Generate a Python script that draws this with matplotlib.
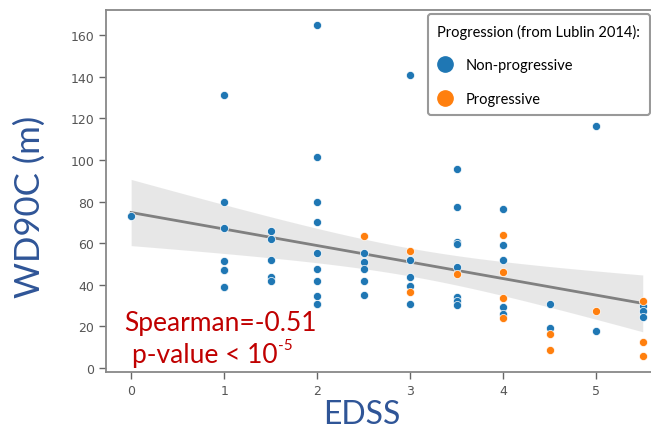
import numpy as np
import matplotlib
matplotlib.use("Agg")
import matplotlib.pyplot as plt
from matplotlib.lines import Line2D

# EDSS / WD90C values, split by progression group
# (a few patients share the same spot and hide behind each other)
edss_np = [0,
           1, 1, 1, 1, 1, 1, 1, 1,
           1.5, 1.5, 1.5, 1.5, 1.5,
           2, 2, 2, 2, 2, 2, 2, 2, 2, 2,
           2.5, 2.5, 2.5, 2.5, 2.5,
           3, 3, 3, 3, 3,
           3.5, 3.5, 3.5, 3.5, 3.5, 3.5, 3.5, 3.5,
           4, 4, 4, 4, 4,
           4.5, 4.5,
           5, 5,
           5.5, 5.5, 5.5]
wd_np = [73,
         131, 79.6, 67.3, 51.3, 47, 47, 39, 39,
         66, 62, 52, 43.6, 42,
         164.6, 101.4, 79.6, 70.3, 55.5, 47.5, 42, 34.5, 31, 31,
         55.3, 51, 47.6, 41.8, 35,
         141, 52, 43.6, 39.6, 30.8,
         95.7, 77.6, 60.7, 59.6, 48.4, 34, 32.4, 30.3,
         76.4, 59.3, 51.8, 29.1, 26,
         31, 19,
         116.5, 18,
         29.6, 27.2, 24.3]

edss_p = [2.5, 3, 3, 3.5, 4, 4, 4, 4, 4.5, 4.5, 5, 5.5, 5.5, 5.5]
wd_p = [63.6, 56.4, 36.7, 45.2, 63.9, 46, 33.6, 24, 16.3, 8.8, 27.2, 32, 12.3, 5.6]

group_labels = ["Non-progressive", "Progressive"]
legend_title = "Progression (from Lublin 2014):"
x_ticks = [0, 1, 2, 3, 4, 5]
y_ticks = [0, 20, 40, 60, 80, 100, 120, 140, 160]

blue = "#1f77b4"
orange = "#ff7f0e"
label_blue = "#2f5597"
note_red = "#c00000"
text_font = ["Lato", "DejaVu Sans"]

fig = plt.figure(figsize=(6.51, 4.35), dpi=100)
ax = fig.add_axes([106 / 651, 1 - 373 / 435, 560 / 651, 362 / 435])

# linear fit with 95% confidence band (all patients)
x_all = np.array(edss_np + edss_p, dtype=float)
y_all = np.array(wd_np + wd_p, dtype=float)
slope, intercept = np.polyfit(x_all, y_all, 1)
n = len(x_all)
resid = y_all - (slope * x_all + intercept)
s_err = np.sqrt(np.sum(resid ** 2) / (n - 2))
sxx = np.sum((x_all - x_all.mean()) ** 2)
xf = np.linspace(0, 5.5, 100)
yf = slope * xf + intercept
half = 1.995 * s_err * np.sqrt(1 / n + (xf - x_all.mean()) ** 2 / sxx)
ax.fill_between(xf, yf - half, yf + half, color="#bdbdbd", alpha=0.35, lw=0, zorder=1)
ax.plot(xf, yf, color="#808080", lw=2, zorder=2)

ax.scatter(edss_np, wd_np, s=34, color=blue, edgecolor="white", linewidth=0.5, zorder=3)
ax.scatter(edss_p, wd_p, s=34, color=orange, edgecolor="white", linewidth=0.5, zorder=3)

ax.set_xlim(-0.27, 5.75)
ax.set_ylim(-1.9, 172)
ax.set_xticks(x_ticks)
ax.set_yticks(y_ticks)
ax.tick_params(labelsize=9, labelcolor="#555555", color="#666666", length=5, width=1)
for side in ["left", "bottom", "top"]:
    ax.spines[side].set_color("#888888")
    ax.spines[side].set_linewidth(1.3)
ax.spines["right"].set_visible(False)

ax.set_xlabel("EDSS", fontsize=23, color=label_blue, family=text_font)
ax.set_ylabel("WD90C (m)", fontsize=25, color=label_blue, family=text_font)
ax.xaxis.set_label_coords(0.457, -0.075)
ax.yaxis.set_label_coords(-0.108, 0.459)

fig.text(124 / 651, 1 - 331 / 435, "Spearman=-0.51", fontsize=19, color=note_red,
         family=text_font)
p_txt = fig.text(132 / 651, 1 - 363 / 435, "p-value < 10", fontsize=19, color=note_red,
                 family=text_font)
ax.annotate("-5", xy=(1.0, 0.58), xycoords=p_txt, xytext=(0, 0), textcoords="offset points",
            fontsize=11, color=note_red, family=text_font, va="bottom", ha="left")

handles = [Line2D([], [], ls="", marker="o", ms=11, color=blue),
           Line2D([], [], ls="", marker="o", ms=11, color=orange)]
leg = ax.legend(handles, group_labels, title=legend_title, loc="upper left",
                bbox_to_anchor=(428 / 651, 1 - 15 / 435), bbox_transform=fig.transFigure,
                borderaxespad=0,
                prop={"family": text_font, "size": 10.5},
                title_fontproperties={"family": text_font, "size": 10.5},
                alignment="left", labelspacing=1.35, handletextpad=0.9, handlelength=1.0,
                borderpad=0.65, fancybox=True, framealpha=1)
leg.get_frame().set_edgecolor("#999999")
leg.get_frame().set_linewidth(1.5)

fig.savefig("out.png", dpi=100)
